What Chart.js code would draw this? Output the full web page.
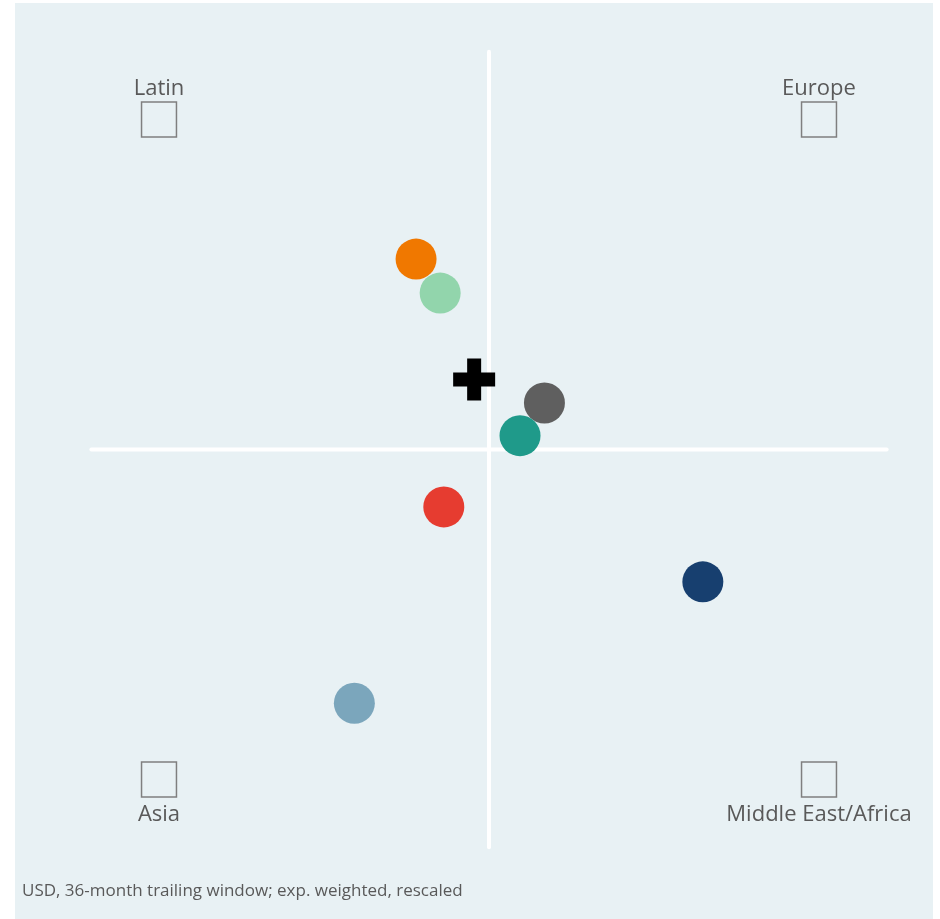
<!DOCTYPE html>
<html>
<head>
<meta charset="utf-8">
<script src="https://cdn.jsdelivr.net/npm/chart.js@4/dist/chart.umd.min.js"></script>
<style>
  html, body { margin: 0; padding: 0; background: #ffffff; }
  #wrap { position: absolute; left: 0; top: 0; width: 940px; height: 919px; }
</style>
</head>
<body>
<div id="wrap"><canvas id="grafico"></canvas></div>
<script>
// posições dos pontos (escala reescalada, -1.2 a 1.2)
var xValues = [-0.221, -0.148, 0.168, 0.094, -0.137, 0.648, -0.408];
var yValues = [0.577, 0.474, 0.141, 0.042, -0.174, -0.401, -0.769];
var pointColors = ['#f07800', '#92d5ac', '#5f5f5f', '#1f9a8a', '#e63c30', '#173f6f', '#7ba6bc'];

// marcador do centro (cruz preta)
var centerX = [-0.045];
var centerY = [0.212];

// cantos com os nomes das regiões
var regionNames = ['Latin', 'Europe', 'Asia', 'Middle East/Africa'];
var regionX = [-1, 1, -1, 1];
var regionY = [1, 1, -1, -1];

var axisMin = -1.2;
var axisMax = 1.2;
var axisLineEnd = 1.205;

var footnote = 'USD, 36-month trailing window; exp. weighted, rescaled';

var textColor = '#595959';
var panelColor = '#e8f1f4';
var fontFamily = '"Open Sans", sans-serif';

function pts(xs, ys) {
    return xs.map(function (x, i) { return { x: x, y: ys[i] }; });
}

// fundo do painel e textos
var panelPlugin = {
    id: 'panel',
    beforeDraw: function (chart) {
        var ctx = chart.ctx;
        ctx.save();
        ctx.fillStyle = panelColor;
        ctx.fillRect(15, 3, 918, 916);
        ctx.restore();
    },
    afterDraw: function (chart) {
        var ctx = chart.ctx;
        var xs = chart.scales.x, ys = chart.scales.y;
        ctx.save();
        ctx.fillStyle = textColor;
        ctx.font = '22px ' + fontFamily;
        ctx.textAlign = 'center';
        ctx.textBaseline = 'alphabetic';
        regionNames.forEach(function (name, i) {
            var px = xs.getPixelForValue(regionX[i]);
            var py = ys.getPixelForValue(regionY[i]);
            if (regionY[i] > 0) {
                ctx.fillText(name, px, py - 25);
            } else {
                ctx.fillText(name, px, py + 41);
            }
        });
        ctx.font = '17px ' + fontFamily;
        ctx.textAlign = 'left';
        ctx.fillText(footnote, 22, 896);
        ctx.restore();
    }
};

var data = {
    datasets: [
        {
            type: 'scatter',
            data: pts(centerX, centerY),
            pointStyle: 'cross',
            pointRadius: 21,
            pointHoverRadius: 21,
            borderColor: '#000000',
            borderWidth: 14,
            order: 0
        },
        {
            type: 'scatter',
            data: pts(xValues, yValues),
            backgroundColor: pointColors,
            borderWidth: 0,
            pointRadius: 20.5,
            pointHoverRadius: 20.5,
            order: 1
        },
        {
            type: 'scatter',
            data: pts(regionX, regionY),
            pointStyle: 'rect',
            pointRadius: 24.7,
            pointHoverRadius: 24.7,
            backgroundColor: 'rgba(0,0,0,0)',
            borderColor: '#7f7f7f',
            borderWidth: 1.5,
            order: 2
        },
        {
            // eixo horizontal
            type: 'line',
            data: [{ x: -axisLineEnd, y: 0 }, { x: axisLineEnd, y: 0 }],
            borderColor: '#ffffff',
            borderWidth: 4,
            borderCapStyle: 'round',
            pointRadius: 0,
            clip: false,
            order: 3
        },
        {
            // eixo vertical
            type: 'line',
            data: [{ x: 0, y: -axisLineEnd }, { x: 0, y: axisLineEnd }],
            borderColor: '#ffffff',
            borderWidth: 4,
            borderCapStyle: 'round',
            pointRadius: 0,
            clip: false,
            order: 3
        }
    ]
};

var options = {
    responsive: true,
    maintainAspectRatio: false,
    animation: false,
    layout: {
        padding: { left: 93, right: 55, top: 53.5, bottom: 73.5 }
    },
    plugins: {
        legend: { display: false },
        tooltip: { enabled: false }
    },
    scales: {
        x: { type: 'linear', min: axisMin, max: axisMax, display: false },
        y: { type: 'linear', min: axisMin, max: axisMax, display: false }
    }
};

var ctx = document.querySelector('#grafico').getContext('2d');
var scatterChart = new Chart(ctx, {
    type: 'scatter',
    data: data,
    options: options,
    plugins: [panelPlugin]
});
</script>
</body>
</html>
